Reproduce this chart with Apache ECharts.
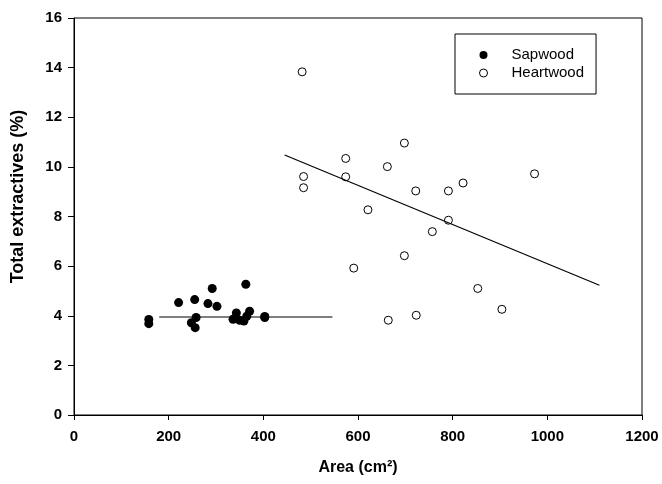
<!DOCTYPE html>
<html>
<head>
<meta charset="utf-8">
<script src="https://cdn.jsdelivr.net/npm/echarts@6/dist/echarts.min.js"></script>
<style>
html,body{margin:0;padding:0;background:#fff;}
#chart{width:662px;height:484px;}
</style>
</head>
<body>
<div id="chart"></div>
<script>
// Sapwood: [area cm², total extractives %]
const sapwood = [
  [158, 3.85], [158, 3.68], [221, 4.53], [255, 4.65], [292, 5.10],
  [283, 4.49], [302, 4.38], [258, 3.93], [248, 3.72], [256, 3.52],
  [363, 5.27], [343, 4.11], [336, 3.86], [350, 3.82], [359, 3.79],
  [371, 4.18], [365, 3.98], [403, 3.93], [403, 3.97]
];
// Heartwood: [area cm², total extractives %]
const heartwood = [
  [482, 13.83], [698, 10.96], [574, 10.34], [662, 10.01], [485, 9.61],
  [485, 9.16], [574, 9.60], [722, 9.03], [791, 9.03], [822, 9.35],
  [973, 9.72], [621, 8.27], [791, 7.85], [757, 7.39], [698, 6.42],
  [591, 5.92], [853, 5.10], [904, 4.26], [664, 3.82], [723, 4.02]
];
// Regression lines (end points)
const sapwoodFit = [[180, 3.95], [546, 3.95]];
const heartwoodFit = [[445, 10.48], [1110, 5.23]];

const xTicks = [0, 200, 400, 600, 800, 1000, 1200];
const yTicks = [0, 2, 4, 6, 8, 10, 12, 14, 16];

const FONT = '"Liberation Sans", Arial, sans-serif';
const chart = echarts.init(document.getElementById('chart'), null, {renderer: 'canvas'});
chart.setOption({
  animation: false,
  backgroundColor: '#fff',
  grid: {
    left: 74, right: 20, top: 18, bottom: 69,
    show: true, borderColor: '#000', borderWidth: 1,
    containLabel: false, outerBoundsMode: 'none'
  },
  legend: {
    data: [
      {name: 'Sapwood', itemStyle: {color: '#000', borderWidth: 0}},
      {name: 'Heartwood', itemStyle: {color: '#fff', borderColor: '#000', borderWidth: 1}}
    ],
    orient: 'vertical',
    left: 455, top: 34,
    itemWidth: 8, itemHeight: 8,
    itemGap: 2,
    padding: [13, 12, 13, 24],
    borderColor: '#000', borderWidth: 1,
    backgroundColor: '#fff',
    textStyle: {fontFamily: FONT, fontSize: 15, color: '#000', lineHeight: 16, padding: [0, 0, 0, 19]},
    selectedMode: false
  },
  xAxis: {
    type: 'value', min: xTicks[0], max: xTicks[xTicks.length - 1], interval: 200,
    name: 'Area (cm²)', nameLocation: 'middle', nameGap: 45,
    nameTextStyle: {fontFamily: FONT, fontSize: 16, fontWeight: 'bold', color: '#000'},
    axisLine: {show: true, onZero: false, lineStyle: {color: '#000', width: 1}},
    axisTick: {show: true, inside: false, length: 5, lineStyle: {color: '#000'}},
    axisLabel: {fontFamily: FONT, fontSize: 15, fontWeight: 'bold', color: '#000', margin: 14,
      formatter: v => String(v)},
    splitLine: {show: false}
  },
  yAxis: {
    type: 'value', min: yTicks[0], max: yTicks[yTicks.length - 1], interval: 2,
    name: 'Total extractives (%)', nameLocation: 'middle', nameGap: 47,
    nameTextStyle: {fontFamily: FONT, fontSize: 18, fontWeight: 'bold', color: '#000', padding: [0, 0, 0, 40]},
    axisLine: {show: true, onZero: false, lineStyle: {color: '#000', width: 1}},
    axisTick: {show: true, inside: false, length: 6, lineStyle: {color: '#000'}},
    axisLabel: {fontFamily: FONT, fontSize: 15, fontWeight: 'bold', color: '#000', margin: 12,
      formatter: v => String(v)},
    splitLine: {show: false}
  },
  series: [
    {
      name: 'Sapwood', type: 'scatter', data: sapwood, symbol: 'circle', symbolSize: 9,
      itemStyle: {color: '#000', opacity: 1}, z: 3
    },
    {
      name: 'Heartwood', type: 'scatter', data: heartwood, symbol: 'circle', symbolSize: 8,
      itemStyle: {color: '#fff', borderColor: '#000', borderWidth: 1, opacity: 1}, z: 3
    },
    {
      name: 'sapFit', type: 'line', data: sapwoodFit, symbol: 'none',
      lineStyle: {color: '#000', width: 1.2}, z: 4, silent: true
    },
    {
      name: 'heartFit', type: 'line', data: heartwoodFit, symbol: 'none',
      lineStyle: {color: '#000', width: 1.2}, z: 4, silent: true
    }
  ]
});
</script>
</body>
</html>
